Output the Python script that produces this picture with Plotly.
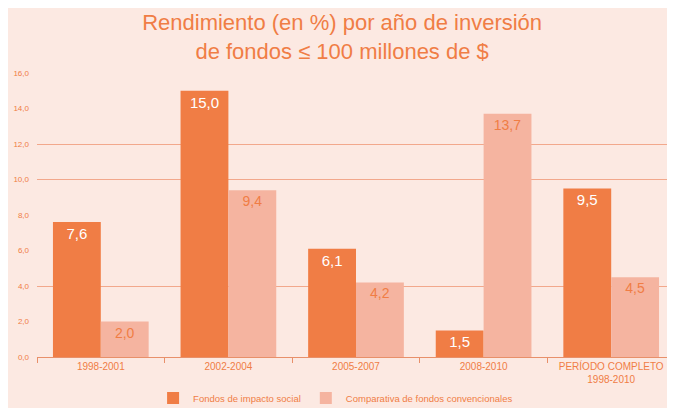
import plotly.graph_objects as go

categories = ["1998-2001", "2002-2004", "2005-2007", "2008-2010", "PERÍODO COMPLETO<br>1998-2010"]
impacto_social = [7.6, 15.0, 6.1, 1.5, 9.5]
convencionales = [2.0, 9.4, 4.2, 13.7, 4.5]
y_ticks = [0, 2, 4, 6, 8, 10, 12, 14, 16]
grid_ticks = [4, 10, 12]

DARK = "#F07D45"
LIGHT = "#F5B4A0"
TXT = "#F07D45"
BG = "#FCE9E2"

fig = go.Figure()
fig.add_trace(go.Bar(
    x=categories, y=impacto_social, name="Fondos de impacto social",
    marker=dict(color=DARK, line=dict(width=0)),
    text=[f"{v:.1f}".replace(".", ",") for v in impacto_social],
    textposition="inside", insidetextanchor="end",
    textfont=dict(color="white", size=15, family="Liberation Sans, Arial"),
    cliponaxis=False,
))
fig.add_trace(go.Bar(
    x=categories, y=convencionales, name="Comparativa de fondos convencionales",
    marker=dict(color=LIGHT, line=dict(width=0)),
    text=[f"{v:.1f}".replace(".", ",") for v in convencionales],
    textposition="inside", insidetextanchor="end",
    textfont=dict(color=TXT, size=14, family="Liberation Sans, Arial"),
    cliponaxis=False,
))
# invisible trace on overlay axis to carry selected gridlines
fig.add_trace(go.Scatter(x=categories, y=[None]*5, yaxis="y2", showlegend=False, hoverinfo="skip"))

fig.update_layout(
    width=675, height=408,
    paper_bgcolor=BG, plot_bgcolor=BG,
    margin=dict(l=29, r=8, t=65, b=59, autoexpand=False),
    separators=",.",
    barmode="group", bargap=0.25, bargroupgap=0,
    title=dict(
        text="Rendimiento (en %) por año de inversión<br>de fondos ≤ 100 millones de $",
        x=0.495, xanchor="center", xref="container", y=0.945, yanchor="top", yref="container",
        font=dict(size=22, color=TXT, family="Liberation Sans, Arial"),
    ),
    font=dict(family="Liberation Sans, Arial", color=TXT),
    xaxis=dict(
        showline=True, linecolor="#E8906A", linewidth=1, automargin=False,
        ticks="outside", tickson="boundaries", ticklen=5, tickcolor="#E8906A",
        tickfont=dict(size=10, color=TXT), showgrid=False,
    ),
    yaxis=dict(
        range=[0, 16], tickvals=y_ticks, tickformat=".1f", automargin=False,
        tickfont=dict(size=8, color=TXT), showgrid=False, zeroline=False,
        showline=False, ticklabelstandoff=7,
    ),
    yaxis2=dict(
        range=[0, 16], overlaying="y", tickvals=grid_ticks, showticklabels=False,
        showgrid=True, gridcolor="#F2A88C", gridwidth=1, zeroline=False, automargin=False,
    ),
    legend=dict(
        orientation="h", x=0.468, xanchor="center", y=-0.144, yanchor="middle",
        font=dict(size=9.5, color=TXT), bgcolor="rgba(0,0,0,0)",
        itemwidth=30, traceorder="normal",
    ),
)
fig.write_html("out.html")
